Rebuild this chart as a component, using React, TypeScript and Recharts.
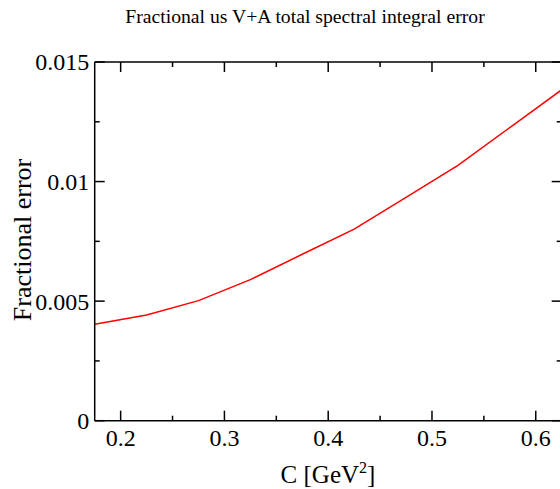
import { LineChart, Line, XAxis, YAxis } from 'recharts';

// C values (GeV^2) and the fractional error
const cValues = [0.175, 0.225, 0.275, 0.325, 0.375, 0.425, 0.475, 0.525, 0.575, 0.625];
const fracError = [0.00403, 0.00442, 0.00502, 0.0059, 0.00696, 0.00801, 0.00934, 0.01068, 0.01226, 0.01384];

const xMajorTicks = [0.2, 0.3, 0.4, 0.5, 0.6];
const xMajorLabels = ['0.2', '0.3', '0.4', '0.5', '0.6'];
const xMinorTicks = [0.25, 0.35, 0.45, 0.55];
const yMajorTicks = [0, 0.005, 0.01, 0.015];
const yMajorLabels = ['0', '0.005', '0.01', '0.015'];
const yMinorTicks = [0.0025, 0.0075, 0.0125];

const data = cValues.map((c, i) => ({ c, err: fracError[i] }));

const FONT = '"Liberation Serif", "Times New Roman", serif';
const textStyle = { fontFamily: FONT };

const findLabel = (ticks: number[], labels: string[], v: number) => {
  const i = ticks.findIndex((t) => Math.abs(t - v) < 1e-9);
  return i >= 0 ? labels[i] : null;
};

const makeTick = (side: 'bottom' | 'top' | 'left' | 'right') => (props: any) => {
  const { x, y, payload } = props;
  const v = payload.value;
  const isX = side === 'bottom' || side === 'top';
  const label = isX ? findLabel(xMajorTicks, xMajorLabels, v) : findLabel(yMajorTicks, yMajorLabels, v);
  const len = label !== null ? 10 : 5;
  let line;
  if (side === 'bottom') line = <line x1={x} y1={y} x2={x} y2={y - len} stroke="#000" strokeWidth={1.5} />;
  else if (side === 'top') line = <line x1={x} y1={y} x2={x} y2={y + len} stroke="#000" strokeWidth={1.5} />;
  else if (side === 'left') line = <line x1={x} y1={y} x2={x + len} y2={y} stroke="#000" strokeWidth={1.5} />;
  else line = <line x1={x} y1={y} x2={x - len} y2={y} stroke="#000" strokeWidth={1.5} />;
  return (
    <g>
      {line}
      {side === 'bottom' && label !== null && (
        <text x={x} y={y + 25} textAnchor="middle" fontSize={24} style={textStyle} fill="#000">
          {label}
        </text>
      )}
      {side === 'left' && label !== null && (
        <text x={x - 5.5} y={y} dy="0.35em" textAnchor="end" fontSize={24} style={textStyle} fill="#000">
          {label}
        </text>
      )}
    </g>
  );
};

const axisLine = { stroke: '#000', strokeWidth: 1.5 };

export default function App() {
  return (
    <div style={{ position: 'absolute', left: 0, top: 0, width: 560, height: 489, overflow: 'hidden', background: '#fff', fontFamily: FONT }}>
      <LineChart
        width={570}
        height={489}
        data={data}
        margin={{ top: 0, right: 0, bottom: 0, left: 0 }}
        style={textStyle}
      >
        <XAxis
          dataKey="c"
          type="number"
          domain={[0.175, 0.625]}
          allowDataOverflow
          ticks={[...xMajorTicks, ...xMinorTicks]}
          interval={0}
          height={68.3}
          tickSize={0}
          tickMargin={0}
          axisLine={axisLine}
          tickLine={false}
          tick={makeTick('bottom')}
        />
        <XAxis
          xAxisId="top"
          orientation="top"
          dataKey="c"
          type="number"
          domain={[0.175, 0.625]}
          allowDataOverflow
          ticks={[...xMajorTicks, ...xMinorTicks]}
          interval={0}
          height={62}
          tickSize={0}
          tickMargin={0}
          axisLine={axisLine}
          tickLine={false}
          tick={makeTick('top')}
        />
        <YAxis
          type="number"
          domain={[0, 0.015]}
          allowDataOverflow
          ticks={[...yMajorTicks, ...yMinorTicks]}
          interval={0}
          width={94.7}
          tickSize={0}
          tickMargin={0}
          axisLine={axisLine}
          tickLine={false}
          tick={makeTick('left')}
        />
        <YAxis
          yAxisId="right"
          orientation="right"
          type="number"
          domain={[0, 0.015]}
          allowDataOverflow
          ticks={[...yMajorTicks, ...yMinorTicks]}
          interval={0}
          width={8.3}
          tickSize={0}
          tickMargin={0}
          axisLine={axisLine}
          tickLine={false}
          tick={makeTick('right')}
        />
        <Line
          type="linear"
          dataKey="err"
          stroke="#ff0000"
          strokeWidth={1.5}
          dot={false}
          isAnimationActive={false}
        />
        <text x={305} y={23} textAnchor="middle" fontSize={19.7} style={textStyle} fill="#000">
          Fractional us V+A total spectral integral error
        </text>
        <text x={328} y={483} textAnchor="middle" fontSize={25} style={textStyle} fill="#000">
          C [GeV<tspan dy={-10} fontSize={16}>2</tspan><tspan dy={10}>]</tspan>
        </text>
        <text
          x={31}
          y={240}
          textAnchor="middle"
          fontSize={26}
          style={textStyle}
          fill="#000"
          transform="rotate(-90, 31, 240)"
        >
          Fractional error
        </text>
      </LineChart>
    </div>
  );
}
